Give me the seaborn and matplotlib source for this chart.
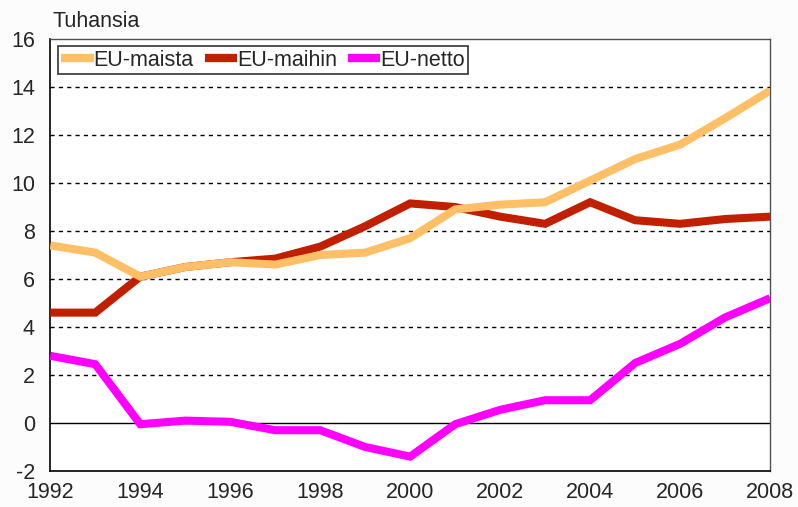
import numpy as np
import pandas as pd
import matplotlib
matplotlib.use("Agg")
import matplotlib.pyplot as plt
import seaborn as sns

years = list(range(1992, 2009))
eu_maista = [7.4, 7.1, 6.1, 6.5, 6.7, 6.6, 7.0, 7.1, 7.7, 8.9, 9.1, 9.2, 10.1, 11.0, 11.6, 12.7, 13.85]
eu_maihin = [4.6, 4.6, 6.1, 6.5, 6.7, 6.85, 7.35, 8.2, 9.15, 9.0, 8.6, 8.3, 9.2, 8.45, 8.3, 8.5, 8.6]
eu_netto = [2.8, 2.45, -0.05, 0.1, 0.05, -0.3, -0.3, -1.0, -1.4, -0.05, 0.55, 0.95, 0.95, 2.5, 3.3, 4.4, 5.2]

series_names = ["EU-maista", "EU-maihin", "EU-netto"]
colors = ["#FFBF66", "#C02000", "#FF00FF"]

df = pd.DataFrame({"vuosi": years, "EU-maista": eu_maista,
                   "EU-maihin": eu_maihin, "EU-netto": eu_netto})
long = df.melt(id_vars="vuosi", var_name="sarja", value_name="arvo")

sns.set_style("white")
plt.rcParams['font.family'] = ['Liberation Sans', 'DejaVu Sans']
plt.rcParams['axes.unicode_minus'] = False

fig = plt.figure(figsize=(7.98, 5.07), dpi=100, facecolor="#FCFCFC")
ax = fig.add_axes([0.063, 0.071, 0.902, 0.852])
ax.set_facecolor("white")

sns.lineplot(data=long, x="vuosi", y="arvo", hue="sarja", hue_order=series_names,
             palette=colors, linewidth=5.8, ax=ax, legend=True,
             solid_capstyle="butt", solid_joinstyle="miter")

# orange line sits on top of the dark red one
lines = ax.get_lines()
lines[0].set_zorder(4)
lines[1].set_zorder(3)
lines[2].set_zorder(3)

ax.set_xlim(1992, 2008)
ax.set_ylim(-2, 16)
ax.set_xticks(range(1992, 2009, 2))
ax.set_yticks(range(-2, 17, 2))
ax.set_xlabel("")
ax.set_ylabel("")

for yv in range(2, 15, 2):
    ax.axhline(yv, color="black", linestyle=(0, (3, 3)), linewidth=1, zorder=0)
ax.axhline(0, color="black", linewidth=1, zorder=0)

ax.tick_params(axis="x", direction="in", length=8, width=1, color="black",
               labelsize=15.5, pad=8)
ax.tick_params(axis="y", length=0, labelsize=15.5, pad=11)

for side in ["left", "bottom"]:
    ax.spines[side].set_color("black")
    ax.spines[side].set_linewidth(1.2)
for side in ["top", "right"]:
    ax.spines[side].set_color("#505050")
    ax.spines[side].set_linewidth(1)

leg = ax.legend(loc="upper left", bbox_to_anchor=(0.011, 0.983), ncol=3,
                frameon=True, fancybox=False, edgecolor="black", fontsize=15.5,
                handlelength=1.5, handletextpad=0.0, columnspacing=0.5,
                borderpad=0.15, borderaxespad=0)
leg.get_frame().set_linewidth(1.2)
for line in leg.get_lines():
    line.set_linewidth(6)

fig.text(0.066, 0.958, "Tuhansia", fontsize=15.5, ha="left", va="center")

fig.savefig("out.png", dpi=100, facecolor=fig.get_facecolor())
